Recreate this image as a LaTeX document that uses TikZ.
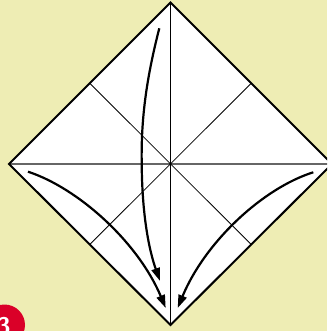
\documentclass[tikz,border=0pt]{standalone}
\usetikzlibrary{arrows.meta}
\definecolor{bgyellow}{RGB}{238,237,180}
\definecolor{stepred}{RGB}{218,0,40}
\tikzset{
  edge/.style={line width=2pt, line join=miter},
  crease/.style={line width=0.8pt},
  foldarrow/.style={line width=2.2pt, -{Triangle[length=13pt,width=8.5pt]}},
}
\begin{document}
\begin{tikzpicture}[x=1pt,y=-1pt]
\useasboundingbox (0,0) rectangle (327,331);
\clip (0,0) rectangle (327,331);
\fill[bgyellow] (0,0) rectangle (327,331);
\coordinate (T) at (170.5,2.5);
\coordinate (L) at (9,164);
\coordinate (R) at (332,164);
\coordinate (B) at (170.5,325);
\coordinate (C) at (170.5,164);
\coordinate (mUL) at (89.75,83.25);
\coordinate (mUR) at (251.25,83.25);
\coordinate (mLL) at (89.75,244.5);
\coordinate (mLR) at (251.25,244.5);
\fill[white] (T) -- (R) -- (B) -- (L) -- cycle;
\draw[crease] (mUL) -- (mLR);
\draw[crease] (mUR) -- (mLL);
\draw[line width=1.6pt, black!60] (L) -- (R);
\draw[line width=1.2pt] (T) -- (B);
\fill (C) circle (1.6pt);
\draw[edge] (T) -- (R) -- (B) -- (L) -- cycle;
% arrows
\coordinate (a1s) at (159.3,28.3);
\coordinate (a1m) at (141.7,163);
\coordinate (a1e) at (160,281);
\draw[foldarrow] (a1s) .. controls (146,80) and (141,120) .. (a1m) .. controls (142,215) and (149,250) .. (a1e);
\coordinate (a2s) at (28,171.7);
\coordinate (a2e) at (165.7,308);
\draw[foldarrow] (a2s) .. controls (78,188) and (138,242) .. (a2e);
\coordinate (a3s) at (313.3,172.3);
\coordinate (a3e) at (177.7,308);
\draw[foldarrow] (a3s) .. controls (263,188) and (205,242) .. (a3e);
% step number
\node[circle, fill=stepred, minimum size=41pt, inner sep=0pt] (stepnum) at (4.5,325) {};
\node[text=white, font=\sffamily\bfseries\fontsize{24}{24}\selectfont, anchor=center] (steplabel) at (4,326) {3};
\end{tikzpicture}
\end{document}
